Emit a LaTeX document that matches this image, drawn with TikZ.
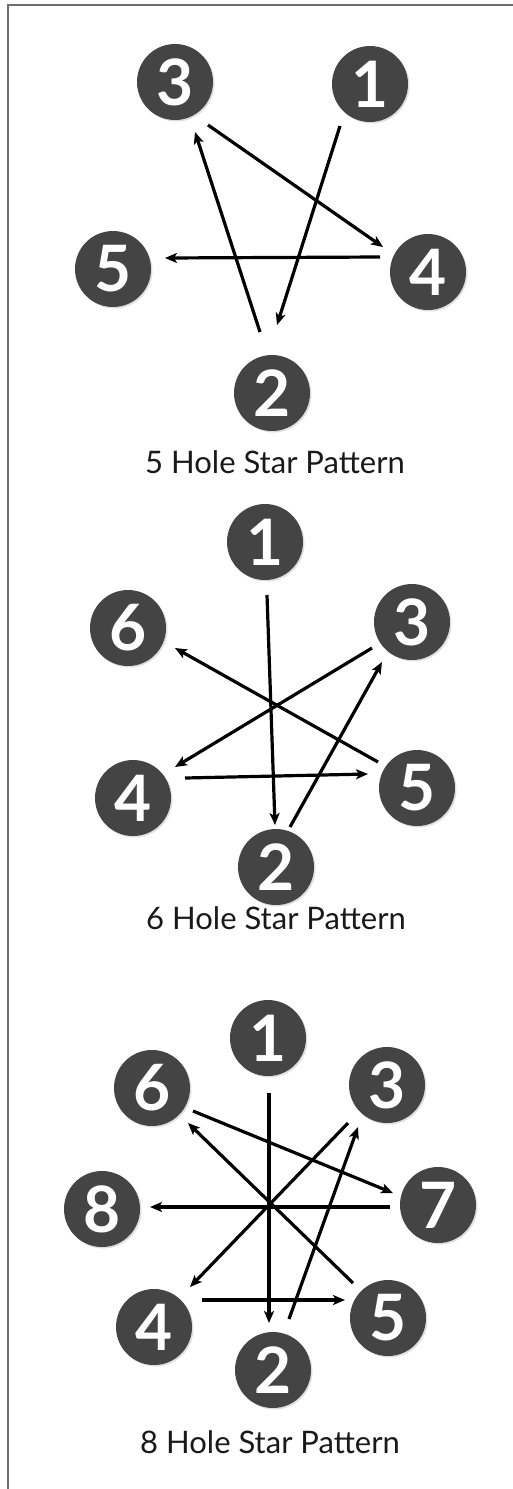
\documentclass[tikz,border=0pt]{standalone}
\usepackage{fontspec}
\setmainfont{Lato}
\usetikzlibrary{calc,arrows.meta,shadows}
\definecolor{holefill}{RGB}{68,68,68}
\definecolor{framegray}{RGB}{110,110,110}
\begin{document}
\begin{tikzpicture}[x=1pt,y=-1pt,
  hole/.style={circle,fill=holefill,minimum size=76pt,inner sep=0pt,text=white,
    font=\fontsize{64}{64}\selectfont\bfseries,
    drop shadow={opacity=0.25,shadow xshift=1.5pt,shadow yshift=-1.5pt}},
  arr/.style={line width=3.2pt,-{Stealth[length=12pt,width=10pt,inset=3pt]}},
  caption/.style={font=\fontsize{31}{31}\selectfont,text=black!90}]
\useasboundingbox (0,0) rectangle (513,1489);
\fill[white] (0,0) rectangle (513,1489);
\draw[framegray,line width=2pt] (8,1489) -- (8,5) -- (513,5);

% ---- 5 hole ----
\node[hole] (a3) at (175,82) {3};
\node[hole] (a1) at (370,84) {1};
\node[hole] (a5) at (113,269) {5};
\node[hole] (a4) at (428,272) {4};
\node[hole] (a2) at (272,393) {2};
\node[caption] (ca) at (275,462) {5 Hole Star Pattern};
\draw[arr] ($(a3)+(33,43)$) -- ($(a4)+(-45,-25)$);
\draw[arr] ($(a1)+(-30,42)$) -- ($(a2)+(5,-68)$);
\draw[arr] ($(a2)+(-12,-61)$) -- ($(a3)+(20,50)$);
\draw[arr] ($(a4)+(-48,-15)$) -- ($(a5)+(52,-11)$);

% ---- 6 hole ----
\node[hole] (b1) at (265,542) {1};
\node[hole] (b6) at (128,628) {6};
\node[hole] (b3) at (412,622) {3};
\node[hole] (b4) at (133,798) {4};
\node[hole] (b5) at (417,788) {5};
\node[hole] (b2) at (276,867) {2};
\node[caption] (cb) at (276,918) {6 Hole Star Pattern};
\draw[arr] ($(b1)+(2,53)$) -- ($(b2)+(-1,-42)$);
\draw[arr] ($(b2)+(14,-40)$) -- ($(b3)+(-30,40)$);
\draw[arr] ($(b3)+(-40,26)$) -- ($(b4)+(42,-31)$);
\draw[arr] ($(b4)+(52,-20)$) -- ($(b5)+(-49,-14)$);
\draw[arr] ($(b5)+(-39,-26)$) -- ($(b6)+(47,20)$);

% ---- 8 hole ----
\node[hole] (c1) at (268,1038) {1};
\node[hole] (c6) at (152,1088) {6};
\node[hole] (c3) at (387,1085) {3};
\node[hole] (c8) at (102,1209) {8};
\node[hole] (c7) at (438,1205) {7};
\node[hole] (c4) at (154,1327) {4};
\node[hole] (c5) at (388,1318) {5};
\node[hole] (c2) at (273,1370) {2};
\node[caption] (cc) at (270,1442) {8 Hole Star Pattern};
\draw[arr] ($(c1)+(1,55)$) -- ($(c2)+(-4,-47)$);
\draw[arr] ($(c2)+(16,-51)$) -- ($(c3)+(-29,42)$);
\draw[arr] ($(c3)+(-39,38)$) -- ($(c4)+(36,-40)$);
\draw[arr] ($(c4)+(48,-27)$) -- ($(c5)+(-43,-18)$);
\draw[arr] ($(c5)+(-35,-35)$) -- ($(c6)+(36,35)$);
\draw[arr] ($(c6)+(41,23)$) -- ($(c7)+(-45,-12)$);
\draw[arr] ($(c7)+(-48,2)$) -- ($(c8)+(48,-2)$);
\end{tikzpicture}
\end{document}
